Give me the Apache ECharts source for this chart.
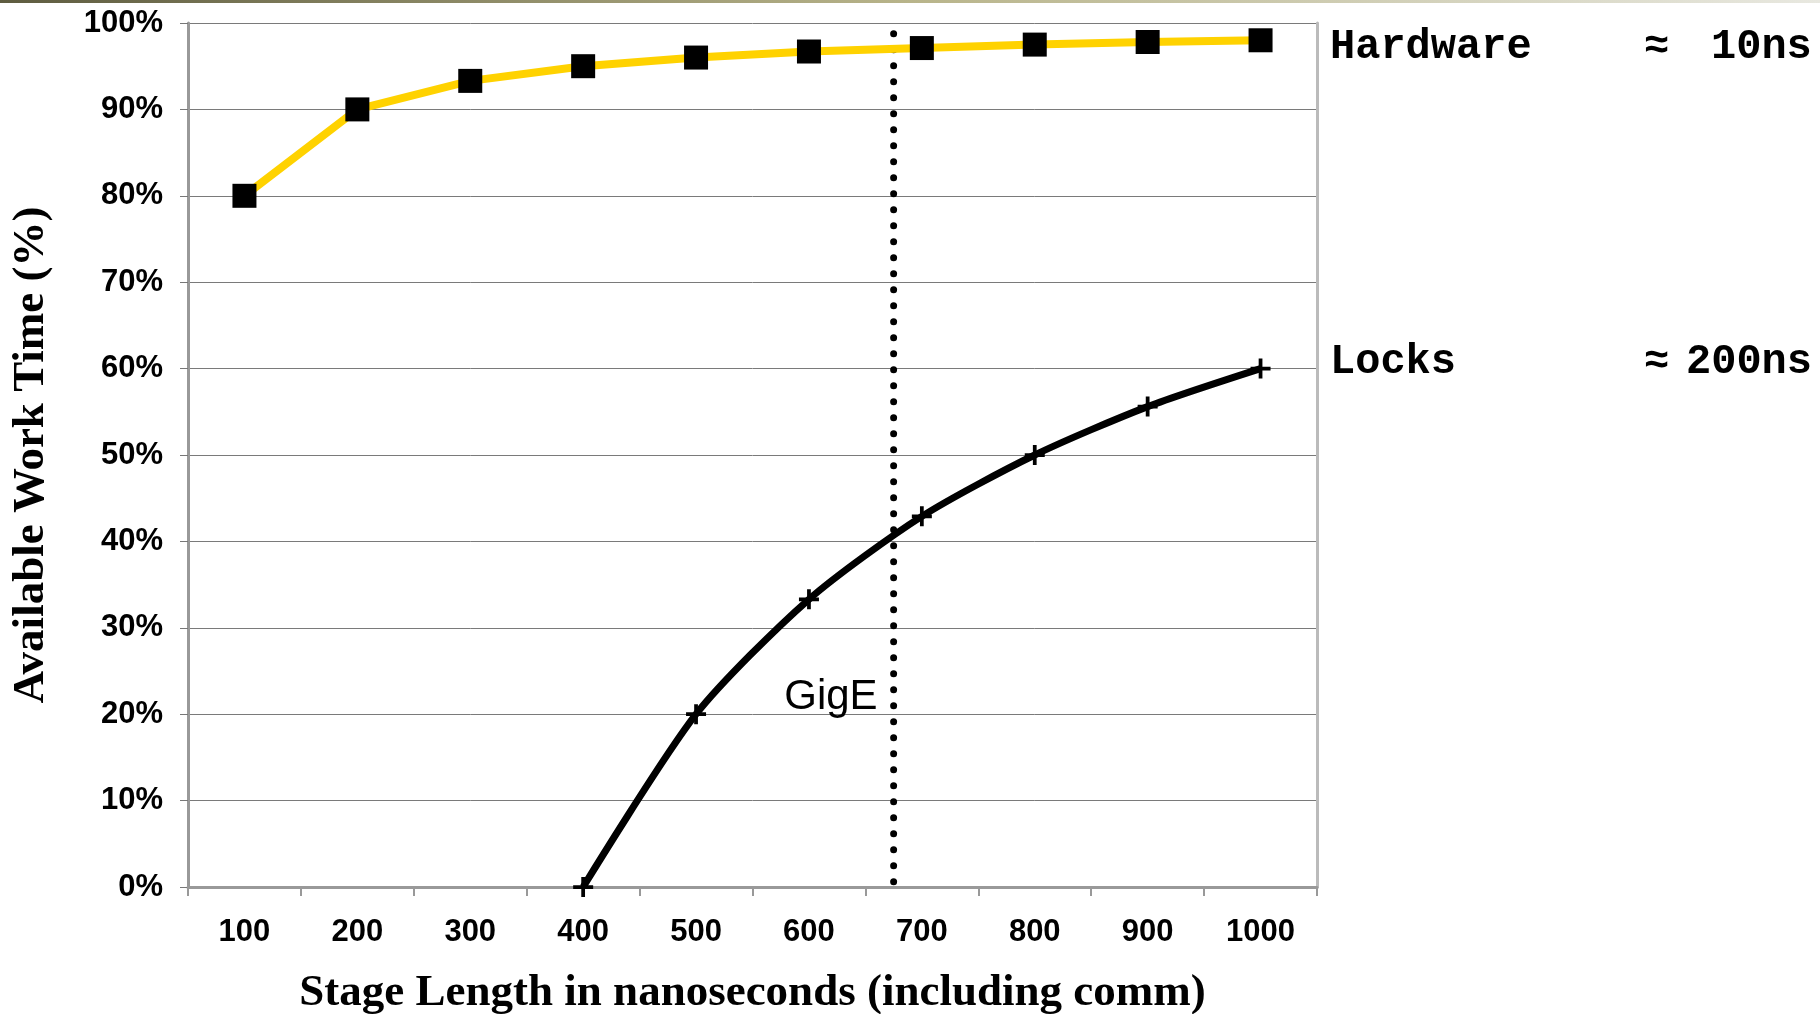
<!DOCTYPE html>
<html>
<head>
<meta charset="utf-8">
<script src="https://cdn.jsdelivr.net/npm/echarts@6/dist/echarts.min.js"></script>
<style>
html,body{margin:0;padding:0;background:#fff;}
#c{width:1820px;height:1014px;}
</style>
</head>
<body>
<div id="c"></div>
<script>
var categories = ['100','200','300','400','500','600','700','800','900','1000'];
var hardware = [80, 90, 93.3, 95, 96, 96.7, 97.1, 97.5, 97.8, 98];
var locks = [null, null, null, 0, 20, 33.3, 42.9, 50, 55.6, 60];
var gigeX = 675;
var gigeLabelY = 21.9;
var yTicks = [0,10,20,30,40,50,60,70,80,90,100];

var chart = echarts.init(document.getElementById('c'), null, {renderer: 'canvas'});
var tickFont = {fontFamily: 'Liberation Sans', fontWeight: 'bold', fontSize: 31, color: '#000'};
var plus = 'path://M-1.5,-8 L1.5,-8 L1.5,-1.5 L8,-1.5 L8,1.5 L1.5,1.5 L1.5,8 L-1.5,8 L-1.5,1.5 L-8,1.5 L-8,-1.5 L-1.5,-1.5 Z';
var monoFont = 'bold 42px "Liberation Mono"';

chart.setOption({
  animation: false,
  backgroundColor: '#fff',
  grid: {left: 188, right: 503, top: 23, bottom: 127, containLabel: false, outerBoundsMode: 'none'},
  xAxis: [{
    type: 'category',
    data: categories,
    boundaryGap: true,
    axisLine: {lineStyle: {color: '#999', width: 3}},
    axisTick: {show: true, interval: 0, length: 9, lineStyle: {color: '#999', width: 2}},
    axisLabel: Object.assign({margin: 30, interval: 0}, tickFont),
    name: 'Stage Length in nanoseconds (including comm)',
    nameLocation: 'middle',
    nameGap: 84,
    nameTextStyle: {fontFamily: 'Liberation Serif', fontWeight: 'bold', fontSize: 45, color: '#000'},
    splitLine: {show: false}
  }, {
    type: 'value',
    min: 50, max: 1050,
    show: false,
    splitLine: {show: false}
  }],
  yAxis: [{
    type: 'value',
    min: 0, max: 100, interval: 10,
    axisLine: {show: true, lineStyle: {color: '#999', width: 3}},
    axisTick: {show: true, length: 8, lineStyle: {color: '#777', width: 1}},
    axisLabel: Object.assign({margin: 25, formatter: '{value}%'}, tickFont),
    splitLine: {show: true, lineStyle: {color: '#7a7a7a', width: 1}},
    name: 'Available Work Time (%)',
    nameLocation: 'middle',
    nameGap: 134,
    nameRotate: 90,
    nameTextStyle: {fontFamily: 'Liberation Serif', fontWeight: 'bold', fontSize: 45, color: '#000'}
  }, {
    type: 'value',
    min: 0, max: 100, interval: 10,
    position: 'right',
    axisLine: {show: true, lineStyle: {color: '#bbb', width: 3}},
    axisTick: {show: false},
    axisLabel: {show: false},
    splitLine: {show: false}
  }],
  series: [{
    name: 'GigE',
    type: 'line',
    xAxisIndex: 1,
    data: [[gigeX, 0.6], [gigeX, 100]],
    symbol: 'none',
    lineStyle: {color: '#000', width: 7, type: [0, 16], cap: 'round'},
    z: 1
  }, {
    name: 'Hardware',
    type: 'line',
    data: hardware,
    symbol: 'rect',
    symbolSize: 24,
    itemStyle: {color: '#000'},
    lineStyle: {color: '#FFD200', width: 8},
    z: 3
  }, {
    name: 'Locks',
    type: 'line',
    data: locks,
    smooth: 0.25,
    connectNulls: false,
    symbol: plus,
    symbolSize: 20,
    itemStyle: {color: '#000'},
    lineStyle: {color: '#000', width: 7},
    z: 3
  }, {
    name: 'GigE label',
    type: 'scatter',
    xAxisIndex: 1,
    data: [[gigeX, gigeLabelY]],
    symbolSize: 0,
    label: {show: true, position: 'left', distance: 16, formatter: 'GigE',
      fontFamily: 'Liberation Sans', fontWeight: 'normal', fontSize: 42, color: '#000', opacity: 1},
    z: 4
  }],
  graphic: [
    {type: 'rect', left: 0, top: 0, shape: {width: 1820, height: 3},
     style: {fill: new echarts.graphic.LinearGradient(0, 0, 1, 0, [
       {offset: 0, color: '#5e5c40'}, {offset: 0.5, color: '#b8b48a'}, {offset: 1, color: '#e8e8e0'}])}},
    {type: 'text', left: 1330, top: 26, style: {text: 'Hardware', font: monoFont, fill: '#000'}},
    {type: 'text', left: 1644, top: 26, style: {text: '\u2248', font: monoFont, fill: '#000'}},
    {type: 'text', left: 1711, top: 26, style: {text: '10ns', font: monoFont, fill: '#000'}},
    {type: 'text', left: 1330, top: 341, style: {text: 'Locks', font: monoFont, fill: '#000'}},
    {type: 'text', left: 1644, top: 341, style: {text: '\u2248', font: monoFont, fill: '#000'}},
    {type: 'text', left: 1686, top: 341, style: {text: '200ns', font: monoFont, fill: '#000'}}
  ]
});
</script>
</body>
</html>
